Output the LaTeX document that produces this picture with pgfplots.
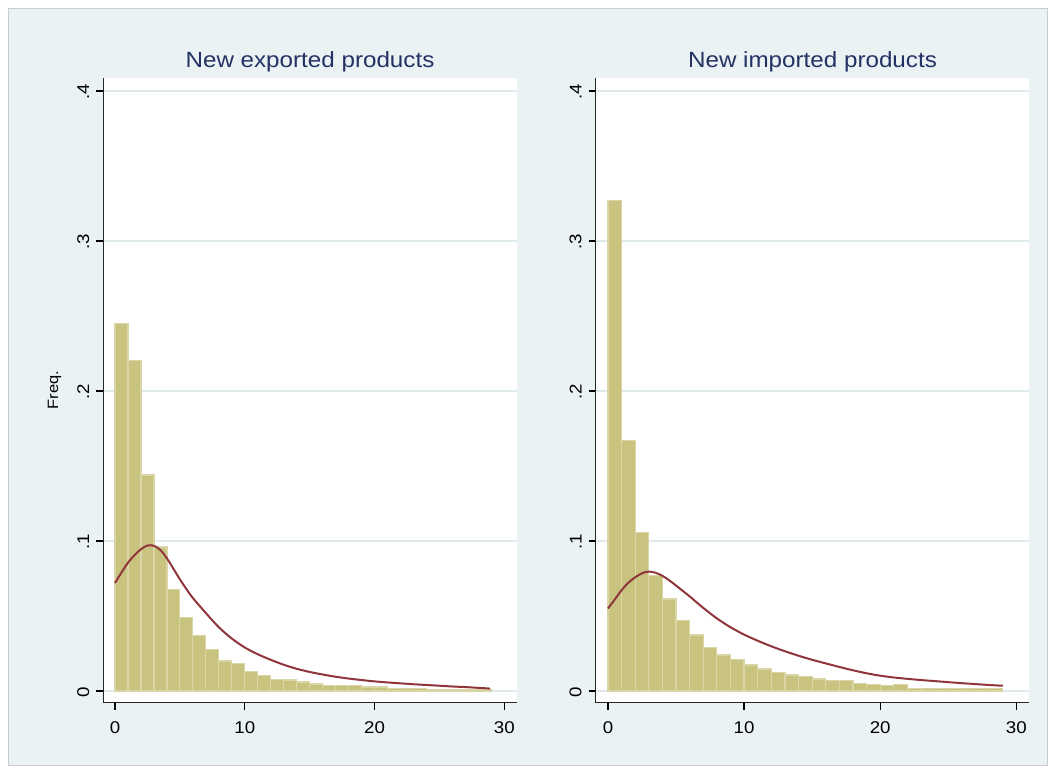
\documentclass[border=0pt]{standalone}
\usepackage{fontspec}
\setmainfont{Liberation Sans}[FakeStretch=1.1]
\usepackage{pgfplots}
\pgfplotsset{compat=1.18}
\definecolor{bgblue}{RGB}{234,242,243}
\definecolor{framegray}{RGB}{200,205,208}
\definecolor{gridc}{RGB}{222,233,236}
\definecolor{barfill}{RGB}{201,195,128}
\definecolor{baredge}{RGB}{218,213,165}
\definecolor{curvec}{RGB}{144,53,59}
\definecolor{titlec}{RGB}{35,50,100}
\pgfplotsset{
 panel/.style={
  scale only axis, height=312.5pt,
  xmin=-0.9, xmax=30.95, ymin=-0.0078, ymax=0.4089,
  axis lines*=left, axis line style={line width=0.75pt, black!85},
  axis background/.style={fill=white},
  xtick={0,10,20,30}, xticklabels={0,10,20,30},
  ytick={0,0.1,0.2,0.3,0.4}, yticklabels={0,.1,.2,.3,.4},
  tick align=outside, major tick length=3.5pt,
  tick style={line width=0.6pt, black},
  ymajorgrids, grid style={gridc, line width=0.6pt},
  ticklabel style={font=\fontsize{8.5}{10}\selectfont},
  yticklabel style={rotate=90, anchor=south, xshift=-0.5pt},
  xticklabel style={anchor=north, yshift=-2.5pt},
  title style={font=\fontsize{11}{13}\selectfont, color=titlec, at={(0.5,1)}, anchor=base, yshift=-1pt},
 },
 bars/.style={ybar interval, fill=barfill, draw=baredge, line width=0.6pt},
 dens/.style={smooth, curvec, line width=1pt, mark=none},
}
\begin{document}
\begin{tikzpicture}
\fill[white] (0,0) rectangle (527.5pt,387pt);
\filldraw[fill=bgblue, draw=framegray, line width=0.5pt] (4pt,4pt) rectangle (523.5pt,382.5pt);

\begin{axis}[panel, width=206.7pt, at={(51.65pt,35.65pt)}, anchor=south west,
  title={New exported products}, ylabel={Freq.},
  ylabel style={font=\fontsize{7.5}{9}\selectfont, at={(axis description cs:-0.118,0.5)}, anchor=center, rotate=0}]
\addplot[bars] coordinates {
(0,0.245)(1,0.2205)(2,0.1440)(3,0.0960)(4,0.0675)(5,0.0490)(6,0.0370)(7,0.0277)(8,0.0200)(9,0.0182)
(10,0.0128)(11,0.0102)(12,0.0076)(13,0.0073)(14,0.0060)(15,0.0047)(16,0.0036)(17,0.0036)(18,0.0036)(19,0.0026)
(20,0.0026)(21,0.0018)(22,0.0018)(23,0.0018)(24,0.0009)(25,0.0009)(26,0.0009)(27,0.0009)(28,0.0009)(29,0.0009)};
\addplot[dens] coordinates {
(0,0.072)(0.5,0.079)(1,0.0855)(1.5,0.0905)(2,0.0945)(2.5,0.097)(3,0.0968)(3.5,0.094)(4,0.0885)(4.5,0.0815)
(5,0.0745)(5.5,0.068)(6,0.062)(7,0.052)(8,0.0425)(9,0.035)(10,0.029)(11,0.0245)(12,0.0208)(13,0.0175)
(14,0.0148)(15,0.0127)(16,0.011)(17,0.0095)(18,0.0083)(19,0.0073)(20,0.0064)(21,0.0057)(22,0.0051)(23,0.0045)
(24,0.004)(25,0.0035)(26,0.003)(27,0.0026)(28,0.0021)(28.9,0.0016)};
\end{axis}

\begin{axis}[panel, width=216.8pt, at={(297.85pt,35.65pt)}, anchor=south west,
  title={New imported products}]
\addplot[bars] coordinates {
(0,0.327)(1,0.167)(2,0.1055)(3,0.077)(4,0.0613)(5,0.047)(6,0.0373)(7,0.029)(8,0.024)(9,0.021)
(10,0.0173)(11,0.0147)(12,0.0122)(13,0.0107)(14,0.0096)(15,0.008)(16,0.0071)(17,0.0071)(18,0.0052)(19,0.0045)
(20,0.0035)(21,0.0042)(22,0.0018)(23,0.0018)(24,0.0018)(25,0.0018)(26,0.0018)(27,0.0018)(28,0.0018)(29,0.0018)};
\addplot[dens] coordinates {
(0,0.055)(0.5,0.061)(1,0.0672)(1.5,0.0722)(2,0.0758)(2.5,0.0785)(3,0.0796)(3.5,0.0788)(4,0.0768)(4.5,0.0738)
(5,0.0703)(5.5,0.0667)(6,0.0631)(6.5,0.0592)(7,0.0554)(8,0.0484)(9,0.0425)(10,0.0376)(11,0.0335)(12,0.0298)
(13,0.0265)(14,0.0235)(15,0.0208)(16,0.0184)(17,0.016)(18,0.0138)(19,0.0118)(20,0.0102)(21,0.009)(22,0.0081)
(23,0.0073)(24,0.0066)(25,0.0059)(26,0.0052)(27,0.0046)(28,0.004)(29,0.0035)};
\end{axis}
\pgfresetboundingbox
\useasboundingbox (0,0) rectangle (527.5pt,387pt);
\end{tikzpicture}
\end{document}
